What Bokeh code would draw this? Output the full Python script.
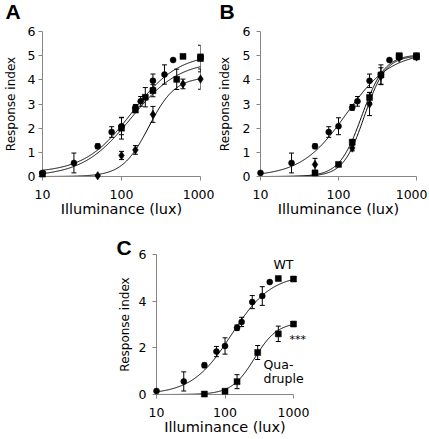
import numpy as np
from bokeh.plotting import figure
from bokeh.models import (Range1d, FixedTicker, Whisker, ColumnDataSource,
                          Spacer, BasicTickFormatter, TeeHead)
from bokeh.core.properties import value
from bokeh.layouts import row, column
from bokeh.embed import file_html
from bokeh.resources import INLINE

# ---------------- data ----------------
X_TICKS = [10, 100, 1000]
Y_TICKS_AB = [0, 1, 2, 3, 4, 5, 6]
Y_TICKS_C = [0, 2, 4, 6]
X_MIN, X_MAX = 10, 1000
Y_MIN, Y_MAX = 0, 6
X_TITLE = "Illuminance (lux)"
Y_TITLE = "Response index"

# wild type (shown in A, B and C)
WT_LUX = [10, 25, 50, 75, 100, 150, 175, 250, 350, 450, 600, 1000]
WT_RESP = [0.15, 0.56, 1.25, 1.84, 2.08, 2.86, 3.11, 3.96, 4.22, 4.82, 4.97, 4.95]
WT_ERR = [0.06, 0.41, 0.1, 0.22, 0.35, 0.12, 0.2, 0.28, 0.4, 0.0, 0.05, 0.05]
WT_MARKERS = ["circle"] * 10 + ["square", "square"]

# panel A, second series (squares)
A2_LUX = [10, 100, 150, 200, 250, 500, 1000]
A2_RESP = [0.1, 2.0, 2.75, 3.28, 3.55, 4.02, 4.88]
A2_ERR = [0.05, 0.45, 0.1, 0.4, 0.25, 0.42, 0.55]
# panel A, third series (diamonds)
A3_LUX = [50, 100, 150, 250, 600, 1000]
A3_RESP = [0.03, 0.87, 1.1, 2.57, 3.83, 4.03]
A3_ERR = [0.03, 0.17, 0.18, 0.33, 0.2, 0.42]

# panel B, second series (squares)
B2_LUX = [50, 100, 150, 250, 350, 600, 1000]
B2_RESP = [0.15, 0.5, 1.42, 3.27, 4.2, 5.0, 5.0]
B2_ERR = [0.1, 0.05, 0.1, 0.2, 0.05, 0.05, 0.05]
# panel B, third series (diamonds)
B3_LUX = [50, 150, 250, 350, 600, 1000]
B3_RESP = [0.5, 1.18, 3.0, 4.15, 4.9, 4.95]
B3_ERR = [0.25, 0.12, 0.48, 0.35, 0.05, 0.05]

# panel C, quadruple mutant (squares)
Q_LUX = [50, 100, 150, 300, 600, 1000]
Q_RESP = [0.02, 0.14, 0.55, 1.8, 2.6, 3.02]
Q_ERR = [0.02, 0.08, 0.3, 0.3, 0.33, 0.05]

# fitted dose-response (Hill) curves: bottom, top, EC50 (lux), Hill slope
FIT_WT_A = (0.15, 5.1, 134, 1.46)
FIT_A2 = (0.0, 4.8, 131, 1.42)
FIT_A3 = (0.0, 4.12, 222, 2.6)
FIT_WT = (0.0, 5.15, 125, 1.5)
FIT_B2 = (0.0, 5.05, 200, 3.0)
FIT_B3 = (0.0, 5.0, 215, 3.2)
FIT_Q = (0.0, 3.1, 270, 2.6)

# ---------------- styles ----------------
AXIS_COLOR = "#868686"
FONT = "DejaVu Sans"


def hill(params, x):
    bottom, top, ec50, n = params
    return bottom + (top - bottom) / (1.0 + (ec50 / x) ** n)


def make_panel(width, height, left, right, top, bottom, yticks,
               y_label_standoff, y_title_standoff):
    p = figure(width=width, height=height, x_axis_type="log",
               x_range=Range1d(X_MIN, X_MAX), y_range=Range1d(Y_MIN, Y_MAX),
               output_backend="svg", toolbar_location=None,
               min_border_left=left, min_border_right=right,
               min_border_top=top, min_border_bottom=bottom)
    p.grid.visible = False
    p.outline_line_color = None
    p.xaxis.ticker = FixedTicker(ticks=X_TICKS, minor_ticks=[])
    p.yaxis.ticker = FixedTicker(ticks=yticks, minor_ticks=[])
    p.xaxis.formatter = BasicTickFormatter(use_scientific=False)
    p.yaxis.formatter = BasicTickFormatter(use_scientific=False)
    for ax in (p.xaxis[0], p.yaxis[0]):
        ax.axis_line_color = AXIS_COLOR
        ax.major_tick_line_color = AXIS_COLOR
        ax.major_tick_out = 4
        ax.major_tick_in = 0
        ax.minor_tick_line_color = None
        ax.major_label_text_font = FONT
        ax.major_label_text_color = "black"
        ax.axis_label_text_font = FONT
        ax.axis_label_text_font_style = "normal"
        ax.axis_label_text_color = "black"
    p.xaxis.axis_label = X_TITLE
    p.yaxis.axis_label = Y_TITLE
    p.xaxis.major_label_text_font_size = "12.5px"
    p.yaxis.major_label_text_font_size = "12.5px"
    p.xaxis.axis_label_text_font_size = "14.5px"
    p.yaxis.axis_label_text_font_size = "12px"
    p.xaxis.major_label_standoff = 9
    p.xaxis.axis_label_standoff = -1
    p.yaxis.major_label_standoff = y_label_standoff
    p.yaxis.axis_label_standoff = y_title_standoff
    return p


def draw_fit(p, params):
    xs = np.logspace(1, 3, 300)
    p.line(xs, hill(params, xs), line_color="black", line_width=1)


def draw_series(p, lux, resp, err, markers, size):
    lux = np.asarray(lux, float)
    resp = np.asarray(resp, float)
    err = np.asarray(err, float)
    src = ColumnDataSource(dict(x=lux, y=resp, upper=resp + err, lower=resp - err,
                                marker=markers))
    p.add_layout(Whisker(source=src, base="x", upper="upper", lower="lower",
                         line_color="black", line_width=1,
                         upper_head=TeeHead(size=5, line_color="black", line_width=1),
                         lower_head=TeeHead(size=5, line_color="black", line_width=1)))
    p.scatter("x", "y", source=src, marker="marker", size=size,
              fill_color="black", line_color="black", line_width=0.5,
              level="overlay")


def text_at(p, text, x, y, dx, dy, font=FONT, size="12.5px", style="normal"):
    # anchored at a corner of the plotting area, shifted by pixels (middle of text)
    p.text(x=[x], y=[y], text=[text], x_offset=dx, y_offset=dy,
           text_font=value(font), text_font_size=value(size),
           text_font_style=value(style), text_color="black",
           text_baseline="middle", text_align="left", level="overlay")


# ---------------- panel A ----------------
pA = make_panel(214, 220, 37, 14, 31, 44, Y_TICKS_AB, 3, 7)
draw_fit(pA, FIT_WT_A)
draw_fit(pA, FIT_A2)
draw_fit(pA, FIT_A3)
draw_series(pA, WT_LUX, WT_RESP, WT_ERR, WT_MARKERS, 6)
draw_series(pA, A2_LUX, A2_RESP, A2_ERR, ["square"] * len(A2_LUX), 6)
draw_series(pA, A3_LUX, A3_RESP, A3_ERR, ["diamond"] * len(A3_LUX), 8.5)
text_at(pA, "A", X_MIN, Y_MAX, -37, -20, "Liberation Sans", "21px", "bold")

# ---------------- panel B ----------------
pB = make_panel(213, 220, 41, 11, 31, 44, Y_TICKS_AB, 6, 8)
draw_fit(pB, FIT_WT)
draw_fit(pB, FIT_B2)
draw_fit(pB, FIT_B3)
draw_series(pB, WT_LUX, WT_RESP, WT_ERR, WT_MARKERS, 6)
draw_series(pB, B2_LUX, B2_RESP, B2_ERR, ["square"] * len(B2_LUX), 6)
draw_series(pB, B3_LUX, B3_RESP, B3_ERR, ["diamond"] * len(B3_LUX), 8.5)
text_at(pB, "B", X_MIN, Y_MAX, -41, -20, "Liberation Sans", "21px", "bold")

# ---------------- panel C ----------------
pC = make_panel(230, 218, 56, 37, 34, 44, Y_TICKS_C, 6, 4)
draw_fit(pC, FIT_WT)
draw_fit(pC, FIT_Q)
draw_series(pC, WT_LUX, WT_RESP, WT_ERR, WT_MARKERS, 6)
draw_series(pC, Q_LUX, Q_RESP, Q_ERR, ["square"] * len(Q_LUX), 6)
text_at(pC, "C", X_MIN, Y_MAX, -40, -7, "Liberation Sans", "21px", "bold")
text_at(pC, "WT", X_MAX, Y_MAX, -20, 10)
text_at(pC, "Qua-", X_MAX, Y_MIN, -30, -30)
text_at(pC, "druple", X_MAX, Y_MIN, -30, -16)
text_at(pC, "***", X_MAX, Y_MIN, -4, -55, size="11px")

layout = column(row(pA, pB), row(Spacer(width=100, height=218), pC))

with open("out.html", "w") as f:
    f.write(file_html(layout, INLINE))
